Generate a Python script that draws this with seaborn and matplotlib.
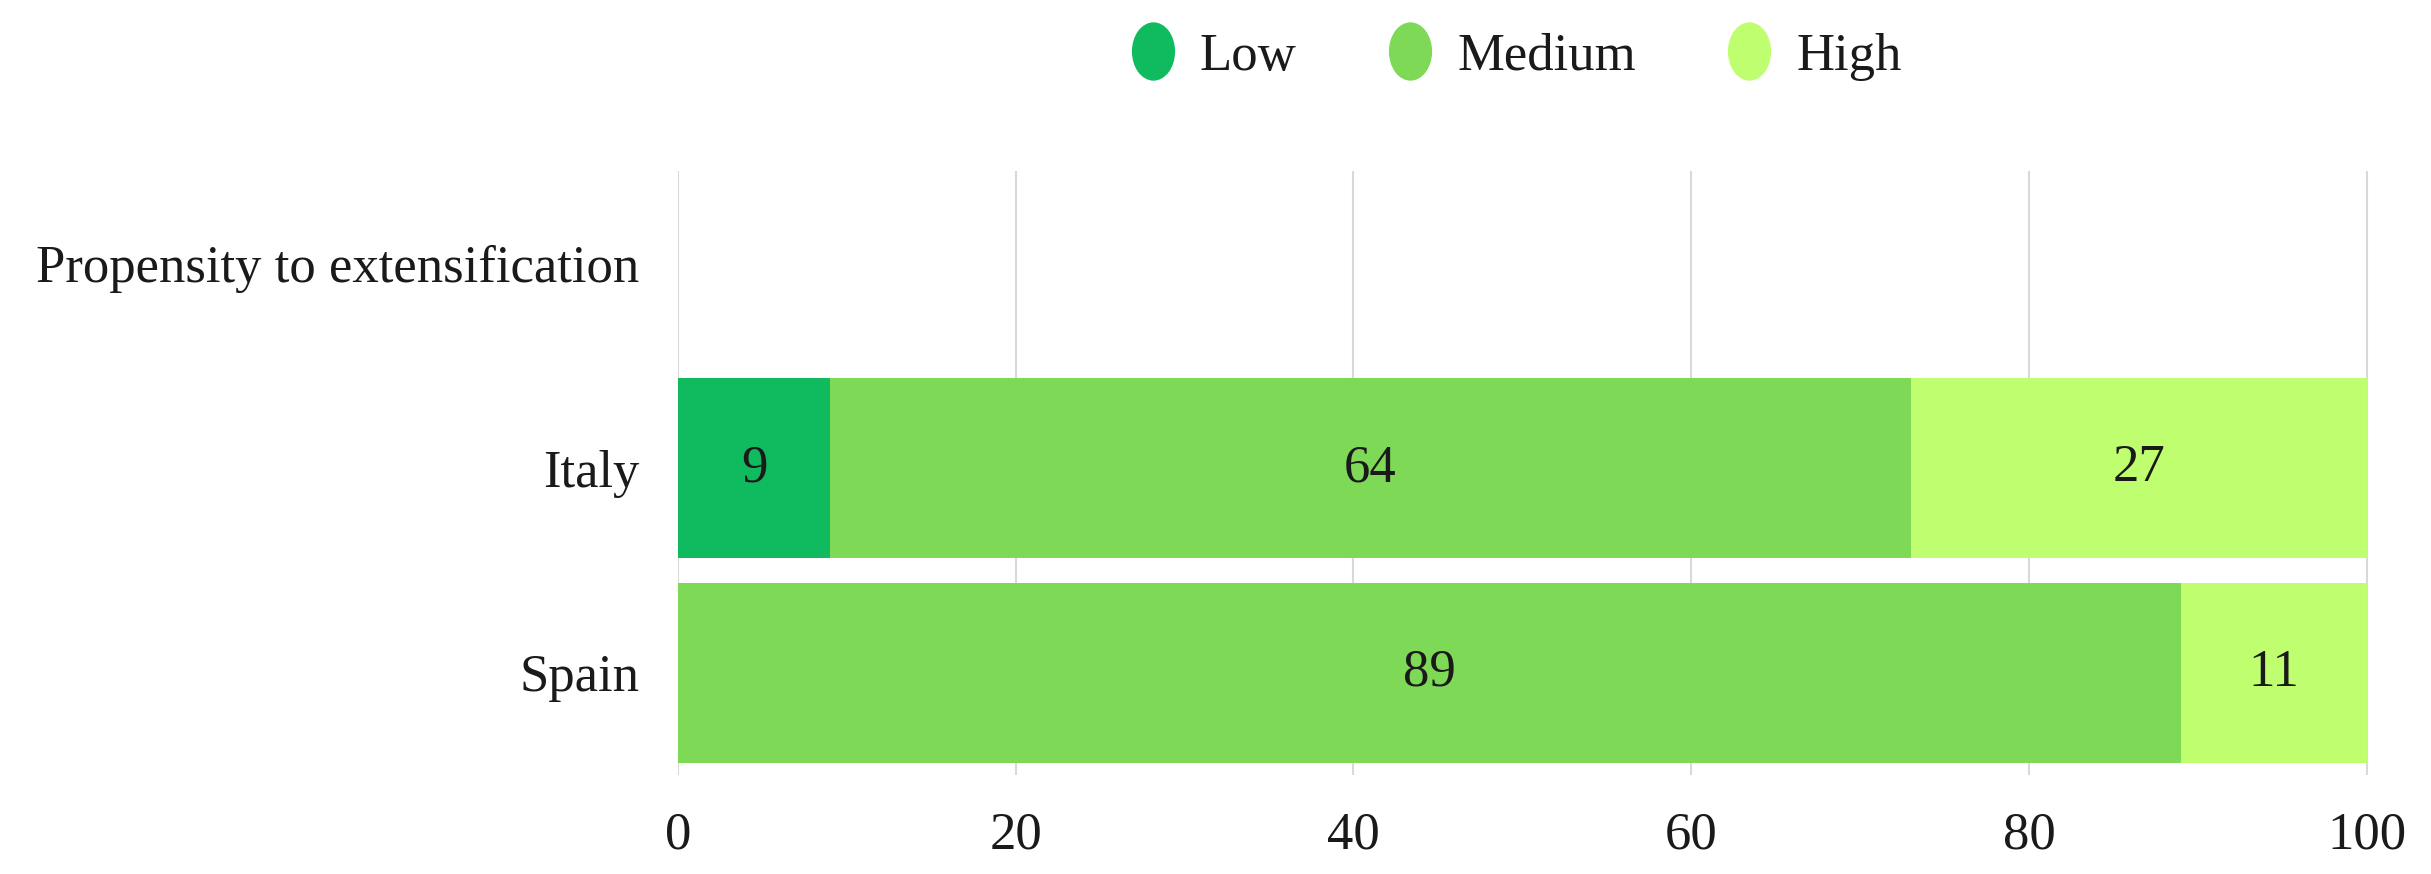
import numpy as np
import pandas as pd
import matplotlib
matplotlib.use("Agg")
import matplotlib.pyplot as plt
from matplotlib.path import Path
from matplotlib.transforms import Affine2D
from matplotlib.lines import Line2D
import seaborn as sns

categories = ["Propensity to extensification", "Italy", "Spain"]
countries = ["Italy", "Spain"]
low = [9, 0]
medium = [64, 89]
high = [27, 11]
series_names = ["Low", "Medium", "High"]
colors = ["#10BA5F", "#7ED957", "#BFFE6E"]
xticks = [0, 20, 40, 60, 80, 100]

sns.set_theme(style="white")
plt.rcParams["font.family"] = ["Liberation Serif", "DejaVu Serif"]

FS = 38

fig = plt.figure(figsize=(24.31, 8.74), dpi=100)
ax = fig.add_axes([0.2789, 0.113, 0.6960, 0.691])

low_a = np.array(low, dtype=float)
med_a = np.array(medium, dtype=float)
high_a = np.array(high, dtype=float)
cum = [low_a, low_a + med_a, low_a + med_a + high_a]

# draw cumulative layers from the largest to smallest
for i in [2, 1, 0]:
    df = pd.DataFrame({"country": countries, "value": cum[i]})
    sns.barplot(data=df, y="country", x="value", order=categories, color=colors[i],
                width=0.88, saturation=1, ax=ax, orient="h", edgecolor="none", linewidth=0)

# value labels
vals = [low_a, med_a, high_a]
starts = [np.zeros_like(low_a), low_a, low_a + med_a]
for s in range(3):
    for j, c in enumerate(countries):
        v = vals[s][j]
        if v > 0:
            ypos = categories.index(c)
            ax.text(starts[s][j] + v / 2, ypos, f"{int(v)}", ha="center", va="center",
                    fontsize=FS, color="#1a1a1a")

ax.set_xlim(0, 100.2)
ax.set_ylim(2.5, -0.45)
ax.set_xticks(xticks)
ax.set_xticklabels([str(t) for t in xticks])
ax.set_xlabel("")
ax.set_ylabel("")
ax.grid(axis="x", color="#d9d9d9", linewidth=1.5)
ax.set_axisbelow(True)
for sp in ax.spines.values():
    sp.set_visible(False)
ax.tick_params(axis="y", length=0, pad=28, labelsize=FS, labelcolor="#1a1a1a")
ax.tick_params(axis="x", length=0, pad=26, labelsize=FS, labelcolor="#1a1a1a")

ell = Path.unit_circle().transformed(Affine2D().scale(0.74, 1.0))
handles = [Line2D([], [], linestyle="none", marker=ell, markersize=42,
                  markerfacecolor=colors[i], markeredgecolor="none", label=series_names[i])
           for i in range(3)]
fig.legend(handles=handles, loc="center", bbox_to_anchor=(0.6228, 0.935), ncol=3,
           frameon=False, fontsize=FS, handletextpad=0.39, columnspacing=1.65,
           handlelength=1.0, labelcolor="#1a1a1a")

fig.savefig("out.png", dpi=100, facecolor="white")
